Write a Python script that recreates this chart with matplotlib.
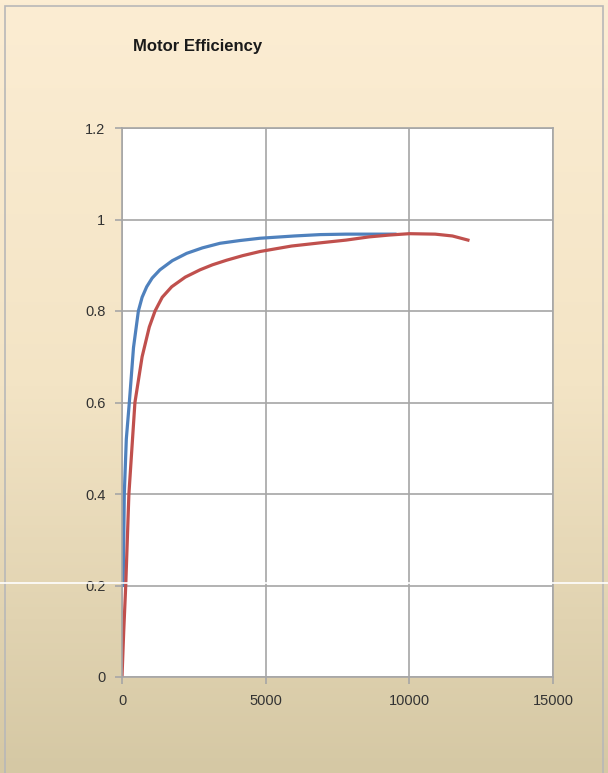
import numpy as np
import matplotlib
matplotlib.use("Agg")
import matplotlib.pyplot as plt
from matplotlib.colors import LinearSegmentedColormap
from matplotlib.patches import Rectangle

# speed (rpm) and efficiency
blue_x = [40, 80, 150, 255, 400, 570, 700, 860, 1050, 1320, 1750, 2250, 2800, 3410, 4100, 4800, 6000, 6900, 7800, 8600, 9500]
blue_y = [0.20, 0.40, 0.52, 0.60, 0.72, 0.80, 0.83, 0.853, 0.872, 0.89, 0.91, 0.926, 0.938, 0.948, 0.954, 0.959, 0.964, 0.967, 0.968, 0.968, 0.968]

red_x = [0, 60, 130, 240, 450, 700, 950, 1150, 1400, 1730, 2200, 2715, 3150, 3640, 4200, 4800, 5900, 6900, 7800, 8600, 9300, 10000, 10900, 11500, 12040]
red_y = [0.0, 0.10, 0.20, 0.40, 0.60, 0.70, 0.765, 0.80, 0.83, 0.853, 0.874, 0.89, 0.901, 0.911, 0.921, 0.930, 0.942, 0.949, 0.955, 0.962, 0.966, 0.969, 0.968, 0.964, 0.955]

x_ticks = [0, 5000, 10000, 15000]
y_ticks = [0, 0.2, 0.4, 0.6, 0.8, 1.0, 1.2]
y_labels = ["0", "0.2", "0.4", "0.6", "0.8", "1", "1.2"]

fig = plt.figure(figsize=(6.08, 7.73), dpi=100)

# chart area background, cream to tan
bg = fig.add_axes([0, 0, 1, 1], zorder=-10)
cmap = LinearSegmentedColormap.from_list("bg", ["#fcedd3", "#f3e4c5", "#d5c8a4"])
bg.imshow(np.linspace(0, 1, 256).reshape(-1, 1), aspect="auto", cmap=cmap, extent=[0, 1, 0, 1])
bg.set_xlim(0, 1)
bg.set_ylim(0, 1)
bg.add_patch(Rectangle((5 / 608, -0.01), 598 / 608, 1 - 6 / 773 + 0.01, fill=False, edgecolor="#b8b8b8", lw=1.2))
bg.axis("off")

ax = fig.add_axes([122 / 608, 1 - 677 / 773, 431 / 608, 549 / 773])
ax.set_facecolor("white")
ax.plot(blue_x, blue_y, color="#4f81bd", lw=2.3)
ax.plot(red_x, red_y, color="#c0504d", lw=2.3)

ax.set_xlim(0, 15000)
ax.set_ylim(0, 1.2)
ax.set_xticks(x_ticks)
ax.set_yticks(y_ticks)
ax.set_yticklabels(y_labels)
ax.grid(True, color="#a6a6a6", lw=1.2)
ax.set_axisbelow(True)
for s in ax.spines.values():
    s.set_color("#a6a6a6")
    s.set_linewidth(1.2)
ax.tick_params(colors="#a6a6a6", labelcolor="#333333", labelsize=10.5, length=5, width=1.2, pad=7)
for lab in ax.get_xticklabels() + ax.get_yticklabels():
    lab.set_fontfamily("Liberation Sans")

fig.text(133 / 608, 1 - 47 / 773, "Motor Efficiency", fontsize=12, fontweight="bold",
         family="Liberation Sans", color="#1a1a1a", va="center", ha="left")

# white scan line across the whole picture
fig.add_artist(plt.Line2D([0, 1], [1 - 583 / 773] * 2, color="white", lw=1.2, zorder=20))

fig.savefig("out.png", dpi=100)
